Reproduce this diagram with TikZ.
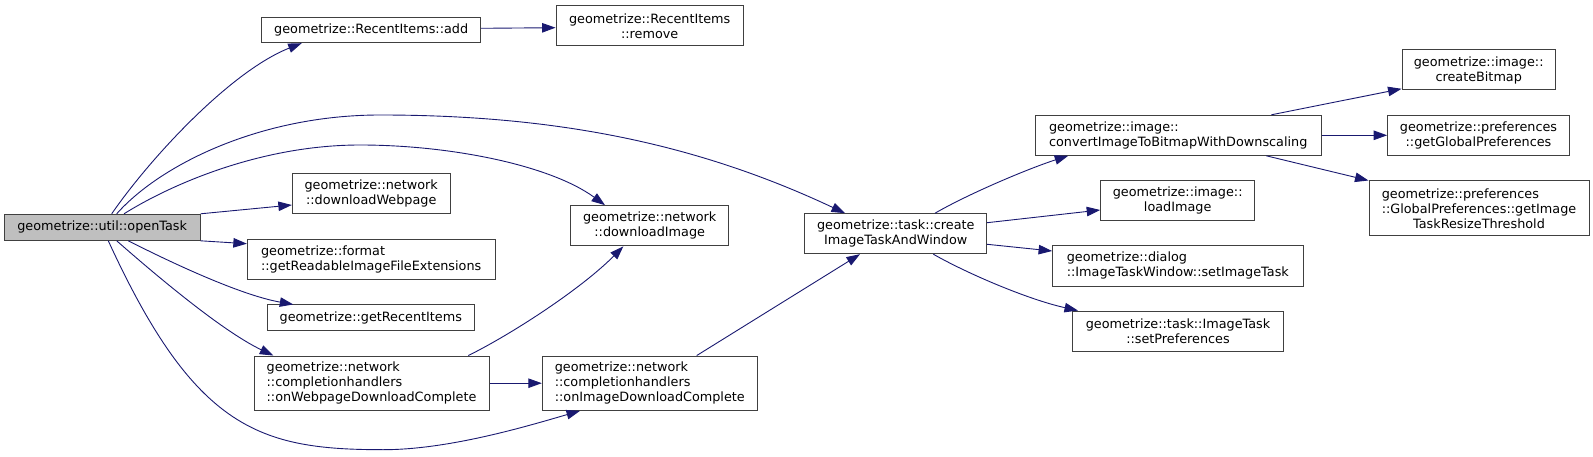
\documentclass[tikz,border=0pt]{standalone}
\usepackage{fontspec}
\setmainfont{DejaVu Sans}
\usepackage{xcolor}
\usepackage{tikz}
\usetikzlibrary{arrows.meta}
\definecolor{edgeblue}{RGB}{25,25,112}

\begin{document}
\begin{tikzpicture}[x=1pt, y=-1pt,
    fnode/.style={draw=black!75, line width=1pt, fill=white, inner sep=0pt,
      font=\fontsize{12.8}{15}\selectfont},
    call/.style={edgeblue, line width=0.9pt, -{Triangle[length=13.5pt,width=9.5pt]}}]

    \useasboundingbox (0,0) rectangle (1593,457);

    % caller
    \node[fnode, fill=black!25, minimum width=195.7, minimum height=26] (openTask) at (102.2,227.3) {geometrize::util::openTask};

    % first column
    \node[fnode, minimum width=219, minimum height=25.4] (riAdd) at (371.2,30) {geometrize::RecentItems::add};
    \node[fnode, align=center, minimum width=157.7, minimum height=40] (dlWebpage) at (371.2,193.7) {geometrize::network\\::downloadWebpage};
    \node[fnode, align=left, minimum width=247.7, minimum height=40] (getReadable) at (371.2,259.3) {geometrize::format\\::getReadableImageFileExtensions};
    \node[fnode, minimum width=207, minimum height=25.7] (getRecent) at (370.8,317.8) {geometrize::getRecentItems};
    \node[fnode, align=left, minimum width=235, minimum height=54.3] (onWebpage) at (371.5,383.2) {geometrize::network\\::completionhandlers\\::onWebpageDownloadComplete};

    % second column
    \node[fnode, align=center, minimum width=187.3, minimum height=40.3] (riRemove) at (649.7,25.8) {geometrize::RecentItems\\::remove};
    \node[fnode, align=center, minimum width=158, minimum height=40.3] (dlImage) at (649.7,225.8) {geometrize::network\\::downloadImage};
    \node[fnode, align=left, minimum width=215, minimum height=54.3] (onImage) at (649.8,383.2) {geometrize::network\\::completionhandlers\\::onImageDownloadComplete};

    % task window
    \node[fnode, align=center, minimum width=181.7, minimum height=40] (createTask) at (895.8,233.7) {geometrize::task::create\\ImageTaskAndWindow};

    % fourth column
    \node[fnode, align=left, minimum width=286.3, minimum height=40] (convertImg) at (1178.2,135.3) {geometrize::image::\\convertImageToBitmapWithDownscaling};
    \node[fnode, align=center, minimum width=154, minimum height=40] (loadImg) at (1177.7,200.3) {geometrize::image::\\loadImage};
    \node[fnode, align=left, minimum width=250.4, minimum height=40.7] (setTask) at (1177.8,265.7) {geometrize::dialog\\::ImageTaskWindow::setImageTask};
    \node[fnode, align=center, minimum width=211, minimum height=40.3] (setPrefs) at (1178,331.2) {geometrize::task::ImageTask\\::setPreferences};

    % last column
    \node[fnode, align=center, minimum width=153.3, minimum height=40] (createBmp) at (1478.7,70) {geometrize::image::\\createBitmap};
    \node[fnode, align=center, minimum width=181.7, minimum height=40] (globalPrefs) at (1478.5,135.3) {geometrize::preferences\\::getGlobalPreferences};
    \node[fnode, align=left, minimum width=220, minimum height=55] (resizeThr) at (1479,208.5) {geometrize::preferences\\::GlobalPreferences::getImage\\\hspace*{\fill}TaskResizeThreshold\hspace*{\fill}};

    % calls from openTask
    \draw[call] ([xshift=9.5]openTask.north) .. controls (151.7,156) and (231.7,70.7) .. ([xshift=-69.5]riAdd.south);
    \draw[call] ([xshift=14.5]openTask.north) .. controls (160,165) and (260,115) .. (380,115)
        .. controls (560,115) and (700,145) .. ([xshift=-50.8]createTask.north);
    \draw[call] ([xshift=21.8]openTask.north) .. controls (170,185) and (260,145) .. (360,145)
        .. controls (450,145) and (550,165) .. ([xshift=-44.7]dlImage.north);
    \draw[call] (openTask.north east) -- ([yshift=-11.3]dlWebpage.west);
    \draw[call] (openTask.south east) -- ([yshift=15.6]getReadable.west);
    \draw[call] ([xshift=26.1]openTask.south) .. controls (170,262) and (240,295) .. ([xshift=-77.5]getRecent.north);
    \draw[call] ([xshift=14.5]openTask.south) .. controls (150,270) and (220,330) .. ([xshift=-98.2]onWebpage.north);
    \draw[call] ([xshift=6.1]openTask.south) .. controls (195,430) and (260,449.7) .. (383.3,449.7)
        .. controls (450,449.7) and (530,425.3) .. ([xshift=-69.8]onImage.south);

    % recent items
    \draw[call] ([yshift=1.7]riAdd.east) -- ([yshift=-1.9]riRemove.west);

    % completion handlers
    \draw[call] ([xshift=96.8]onWebpage.north) .. controls (510,335) and (580,290) .. ([xshift=-26.4]dlImage.south);
    \draw[call] (onWebpage.east) -- (onImage.west);
    \draw[call] ([xshift=46.9]onImage.north) -- ([xshift=-35.8]createTask.south);

    % calls from createTask
    \draw[call] ([xshift=39.2]createTask.north) .. controls (970,193) and (1030,168) .. ([xshift=-110]convertImg.south);
    \draw[call] ([yshift=11]createTask.east) -- ([yshift=-9.7]loadImg.west);
    \draw[call] ([yshift=-10.6]createTask.east) -- ([yshift=14.7]setTask.west);
    \draw[call] ([xshift=37.5]createTask.south) .. controls (970,275) and (1030,300) .. ([xshift=-100]setPrefs.north);

    % calls from convertImg
    \draw[call] ([xshift=93.1]convertImg.north) -- ([yshift=1.7]createBmp.south west);
    \draw[call] (convertImg.east) -- (globalPrefs.west);
    \draw[call] ([xshift=88.1]convertImg.south) -- (resizeThr.north west);

\end{tikzpicture}
\end{document}
